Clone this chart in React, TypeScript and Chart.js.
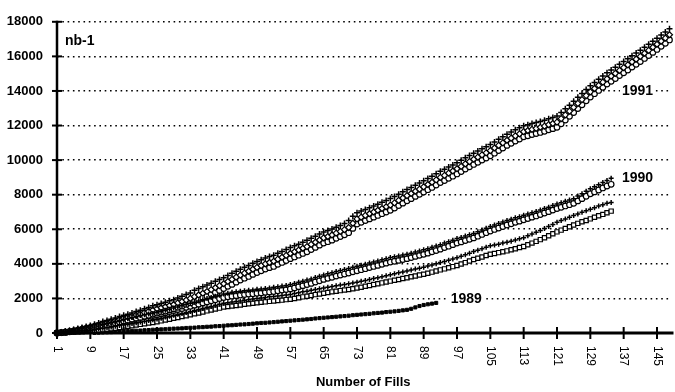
import { useEffect, useRef } from 'react';
import { Chart, registerables } from 'chart.js';

Chart.register(...registerables);

const X_TICKS = [1, 9, 17, 25, 33, 41, 49, 57, 65, 73, 81, 89, 97, 105, 113, 121, 129, 137, 145];
const Y_TICKS = [0, 2000, 4000, 6000, 8000, 10000, 12000, 14000, 16000, 18000];
const X_MAX = 148;

// 1991 (three overlapping runs)
const Y1991_A = [0,50,100,150,200,260,320,380,440,510,580,660,730,800,870,950,1020,1090,1160,1240,1310,1400,1480,1570,1640,1710,1780,1860,1930,2030,2120,2220,2320,2470,2580,2680,2780,2880,2990,3100,3200,3330,3450,3570,3690,3800,3910,4030,4140,4240,4340,4420,4500,4610,4720,4830,4940,5040,5140,5250,5360,5480,5600,5720,5840,5930,6020,6120,6220,6330,6500,6750,6950,7050,7150,7250,7350,7450,7560,7670,7780,7900,8030,8170,8300,8420,8550,8670,8800,8940,9070,9210,9350,9470,9600,9720,9850,9990,10130,10260,10400,10520,10650,10770,10900,11050,11200,11350,11500,11620,11750,11870,11990,12050,12120,12180,12240,12310,12390,12460,12550,12750,12970,13180,13400,13630,13850,14080,14300,14490,14680,14860,15050,15210,15370,15540,15700,15860,16030,16190,16350,16530,16700,16880,17050,17230,17410,17600];
const Y1991_B = [0,30,70,110,150,200,250,300,350,410,470,540,600,660,720,790,850,910,970,1040,1100,1180,1250,1330,1400,1460,1520,1590,1650,1740,1820,1910,2000,2100,2200,2300,2400,2510,2620,2740,2850,2980,3100,3230,3350,3460,3570,3690,3800,3900,4000,4080,4150,4270,4380,4490,4600,4700,4800,4900,5000,5130,5250,5380,5500,5580,5670,5780,5880,5980,6100,6350,6600,6700,6800,6900,7000,7100,7200,7300,7400,7530,7670,7810,7950,8070,8200,8320,8450,8590,8720,8860,9000,9120,9250,9370,9500,9640,9780,9910,10050,10170,10300,10420,10550,10700,10850,11000,11150,11270,11400,11520,11650,11710,11780,11840,11900,11970,12050,12120,12200,12400,12620,12830,13050,13280,13500,13730,13950,14140,14330,14510,14700,14860,15020,15190,15350,15510,15680,15840,16000,16180,16350,16530,16700,16880,17060,17250];
const Y1991_C = [0,20,50,80,110,150,190,230,270,320,370,430,480,530,580,640,690,740,790,850,900,970,1030,1100,1160,1210,1270,1340,1400,1490,1560,1650,1740,1840,1930,2030,2130,2240,2340,2460,2570,2700,2810,2940,3060,3170,3270,3390,3500,3600,3700,3780,3850,3970,4080,4190,4300,4400,4500,4600,4700,4830,4950,5080,5200,5280,5370,5480,5580,5680,5800,6050,6300,6400,6500,6600,6700,6800,6900,7000,7100,7230,7370,7510,7650,7770,7900,8020,8150,8290,8420,8560,8700,8820,8950,9070,9200,9340,9480,9610,9750,9870,10000,10120,10250,10400,10550,10700,10850,10970,11100,11220,11350,11410,11480,11540,11600,11670,11750,11820,11900,12100,12320,12530,12750,12980,13200,13430,13650,13840,14030,14210,14400,14560,14720,14890,15050,15210,15380,15540,15700,15880,16050,16230,16400,16580,16760,16950];

// 1990 upper pair
const Y1990_CIRCLE = [0,20,50,70,100,150,200,250,300,350,400,450,500,550,600,650,700,750,800,850,900,940,980,1010,1050,1110,1170,1240,1300,1360,1420,1490,1550,1610,1670,1740,1800,1860,1920,1990,2050,2090,2130,2160,2200,2220,2250,2270,2300,2320,2350,2370,2400,2440,2480,2510,2550,2610,2680,2740,2800,2870,2950,3020,3100,3160,3220,3290,3350,3410,3470,3540,3600,3660,3720,3790,3850,3910,3970,4040,4100,4150,4200,4250,4300,4360,4430,4490,4550,4620,4700,4770,4850,4940,5020,5110,5200,5270,5350,5420,5500,5600,5700,5800,5900,5990,6070,6160,6250,6320,6400,6470,6550,6620,6700,6770,6850,6940,7020,7110,7200,7270,7350,7420,7500,7640,7770,7910,8050,8160,8270,8390,8500,8600];
const Y1990_PLUS = [0,30,60,90,130,180,240,290,350,400,460,510,570,620,680,730,790,840,900,950,1010,1050,1100,1130,1180,1240,1310,1380,1450,1510,1580,1650,1720,1780,1850,1920,1990,2050,2120,2190,2260,2300,2350,2380,2420,2440,2470,2490,2530,2550,2580,2600,2640,2680,2720,2750,2800,2860,2930,2990,3060,3130,3210,3280,3360,3420,3480,3550,3610,3670,3730,3800,3860,3920,3980,4050,4110,4170,4230,4300,4360,4410,4460,4510,4560,4620,4690,4750,4810,4880,4960,5030,5110,5200,5280,5370,5460,5530,5610,5680,5760,5860,5960,6060,6160,6250,6330,6420,6510,6580,6660,6730,6810,6880,6960,7030,7110,7200,7280,7370,7460,7540,7620,7690,7770,7920,8050,8200,8340,8460,8570,8700,8820,8950];

// 1990 lower pair
const Y1990_SQUARE = [0,10,20,35,50,60,75,90,100,130,160,190,220,250,280,320,350,390,420,460,500,540,580,610,650,700,750,800,850,900,950,1000,1050,1110,1160,1220,1280,1330,1390,1440,1500,1530,1560,1590,1620,1660,1690,1720,1750,1780,1800,1830,1850,1880,1900,1930,1950,2000,2040,2090,2130,2170,2220,2260,2300,2340,2380,2410,2450,2490,2520,2560,2600,2650,2700,2750,2800,2850,2900,2950,3000,3050,3100,3150,3200,3250,3300,3350,3400,3460,3520,3590,3650,3710,3770,3840,3900,3990,4070,4160,4250,4320,4400,4480,4550,4600,4650,4700,4750,4810,4870,4940,5000,5100,5200,5300,5400,5510,5620,5740,5850,5950,6050,6150,6250,6340,6430,6510,6600,6690,6780,6860,6950,7050];
const Y1990_CROSS = [0,20,40,60,80,100,120,140,160,200,240,280,310,350,390,430,470,510,550,600,640,680,730,770,810,860,920,970,1020,1080,1130,1190,1240,1300,1360,1420,1490,1540,1600,1660,1720,1750,1790,1820,1850,1890,1930,1960,2000,2030,2060,2090,2110,2140,2170,2200,2230,2280,2330,2380,2420,2470,2520,2560,2610,2650,2690,2730,2770,2810,2850,2890,2940,2990,3040,3100,3150,3200,3260,3310,3370,3420,3480,3530,3590,3640,3700,3750,3810,3870,3940,4010,4080,4140,4210,4280,4350,4440,4530,4620,4720,4790,4880,4960,5040,5090,5140,5200,5250,5310,5380,5450,5510,5620,5720,5830,5930,6040,6160,6280,6400,6500,6600,6700,6800,6890,6980,7070,7160,7250,7340,7420,7510,7550];

// 1989
const Y1989 = [null,null,null,null,null,null,null,null,null,10,20,30,40,50,60,80,100,110,120,130,140,160,170,190,200,210,220,240,250,260,270,290,300,310,330,340,360,370,390,400,420,440,450,470,490,500,520,540,560,580,590,610,630,650,670,690,710,730,750,770,790,810,840,860,880,900,920,940,960,980,1000,1030,1050,1070,1090,1110,1140,1160,1180,1210,1230,1250,1280,1310,1340,1400,1480,1560,1620,1660,1700,1740];

const SERIES_LABELS = ['nb-1'];
const ANNOTATIONS = [
  { text: '1991', x: 136.6, y: 14000 },
  { text: '1990', x: 136.6, y: 8950 },
  { text: '1989', x: 95.5, y: 1950 },
];
const X_TITLE = 'Number of Fills';

const toPoints = (arr: (number | null)[]) => arr.map((v, i) => ({ x: i + 1, y: v }));

const FONT = '"Liberation Sans", Arial, Helvetica, sans-serif';

const overlay = {
  id: 'overlay',
  afterDraw(chart: any) {
    const { ctx, chartArea, scales } = chart;
    const { left, right, top, bottom } = chartArea;
    const xs = scales.x;
    const ys = scales.y;
    ctx.save();
    ctx.strokeStyle = '#000';
    ctx.fillStyle = '#000';
    ctx.setLineDash([]);
    // y axis
    ctx.lineWidth = 2.5;
    ctx.beginPath();
    ctx.moveTo(left, top - 1);
    ctx.lineTo(left, bottom + 1);
    ctx.stroke();
    ctx.lineWidth = 2;
    for (const v of Y_TICKS) {
      const py = ys.getPixelForValue(v);
      ctx.beginPath();
      ctx.moveTo(left - 5, py);
      ctx.lineTo(left + 5, py);
      ctx.stroke();
    }
    // x axis
    ctx.lineWidth = 3;
    ctx.beginPath();
    ctx.moveTo(left - 1, bottom);
    ctx.lineTo(right + 4, bottom);
    ctx.stroke();
    ctx.lineWidth = 2;
    ctx.font = `12px ${FONT}`;
    ctx.textAlign = 'left';
    ctx.textBaseline = 'middle';
    for (const v of X_TICKS) {
      const px = xs.getPixelForValue(v);
      ctx.beginPath();
      ctx.moveTo(px, bottom - 6);
      ctx.lineTo(px, bottom + 6);
      ctx.stroke();
      ctx.save();
      ctx.translate(px, bottom + 13);
      ctx.rotate(Math.PI / 2);
      ctx.fillText(String(v), 0, 0);
      ctx.restore();
    }
    // axis title
    ctx.font = `bold 13px ${FONT}`;
    ctx.textAlign = 'center';
    ctx.textBaseline = 'middle';
    ctx.fillText(X_TITLE, (left + right) / 2, 382);
    // unit label
    ctx.font = `bold 14px ${FONT}`;
    ctx.textAlign = 'left';
    ctx.fillText(SERIES_LABELS[0], xs.getPixelForValue(2.9), ys.getPixelForValue(16860));
    // year annotations
    for (const a of ANNOTATIONS) {
      const px = xs.getPixelForValue(a.x);
      const py = ys.getPixelForValue(a.y);
      const w = ctx.measureText(a.text).width;
      ctx.fillStyle = '#fff';
      ctx.fillRect(px - 2, py - 7, w + 4, 14);
      ctx.fillStyle = '#000';
      ctx.fillText(a.text, px, py);
    }
    ctx.restore();
  },
};

export default function App() {
  const ref = useRef<HTMLCanvasElement | null>(null);
  useEffect(() => {
    document.body.style.margin = '0';
    const canvas = ref.current;
    if (!canvas) return;
    const open = { backgroundColor: '#fff', borderColor: '#000' };
    const chart = new Chart(canvas, {
      type: 'line',
      data: {
        datasets: [
          { label: '1991 a', data: toPoints(Y1991_A), pointStyle: 'cross', pointRadius: 3, pointBorderWidth: 1.5, borderColor: '#000', backgroundColor: '#000' },
          { label: '1990 a', data: toPoints(Y1990_PLUS), pointStyle: 'cross', pointRadius: 2.5, pointBorderWidth: 1.5, borderColor: '#000', backgroundColor: '#000' },
          { label: '1990 c', data: toPoints(Y1990_CROSS), pointStyle: 'cross', pointRadius: 2.5, pointBorderWidth: 1.5, borderColor: '#000', backgroundColor: '#000' },
          { label: '1991 b', data: toPoints(Y1991_B), pointStyle: 'rectRot', pointRadius: 3, pointBorderWidth: 1.2, ...open },
          { label: '1991 c', data: toPoints(Y1991_C), pointStyle: 'circle', pointRadius: 2.8, pointBorderWidth: 1.2, ...open },
          { label: '1990 b', data: toPoints(Y1990_CIRCLE), pointStyle: 'circle', pointRadius: 2.8, pointBorderWidth: 1.2, ...open },
          { label: '1990 d', data: toPoints(Y1990_SQUARE), pointStyle: 'rect', pointRadius: 3, pointBorderWidth: 1.2, ...open },
          { label: '1989', data: toPoints(Y1989), pointStyle: 'rect', pointRadius: 2.2, pointBorderWidth: 1, borderColor: '#000', backgroundColor: '#000' },
        ].map((d) => ({ ...d, showLine: false, pointBackgroundColor: d.backgroundColor, pointBorderColor: d.borderColor, clip: 6 })),
      },
      options: {
        animation: false,
        responsive: false,
        maintainAspectRatio: false,
        layout: { padding: { top: 9, right: 2, left: 0, bottom: 0 } },
        plugins: { legend: { display: false }, tooltip: { enabled: false } },
        scales: {
          x: {
            type: 'linear',
            min: 1,
            max: X_MAX,
            grid: { display: false },
            border: { display: false },
            ticks: { display: false },
            afterBuildTicks: (s: any) => { s.ticks = X_TICKS.map((v) => ({ value: v })); },
            afterFit: (s: any) => { s.height = 59; },
          },
          y: {
            type: 'linear',
            min: 0,
            max: 18000,
            afterBuildTicks: (s: any) => { s.ticks = Y_TICKS.map((v) => ({ value: v })); },
            grid: { color: '#000', lineWidth: 1.6, drawTicks: false },
            border: { display: false, dash: [1.6, 3.7] },
            ticks: {
              color: '#000',
              padding: 14,
              font: { family: FONT, weight: 'bold', size: 13 },
              callback: (v: any) => String(v),
            },
            afterFit: (s: any) => { s.width = 57; },
          },
        },
      },
      plugins: [overlay],
    } as any);
    return () => chart.destroy();
  }, []);
  return <canvas ref={ref} width={675} height={392} style={{ display: 'block' }} />;
}
